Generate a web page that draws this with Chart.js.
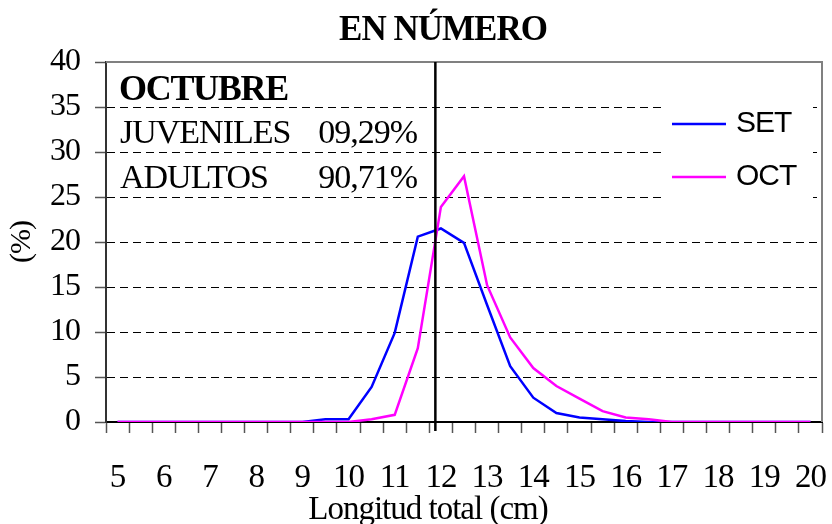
<!DOCTYPE html>
<html>
<head>
<meta charset="utf-8">
<script src="https://cdn.jsdelivr.net/npm/chart.js@4"></script>
<style>
  html, body { margin: 0; padding: 0; background: #fff; }
  canvas { display: block; }
</style>
</head>
<body>
<canvas id="grafico" width="832" height="524"></canvas>
<script>
// Longitud total (cm), clases de 0,5 cm
const tallas = [5, 5.5, 6, 6.5, 7, 7.5, 8, 8.5, 9, 9.5, 10, 10.5, 11, 11.5, 12, 12.5,
                13, 13.5, 14, 14.5, 15, 15.5, 16, 16.5, 17, 17.5, 18, 18.5, 19, 19.5, 20];

// Frecuencia en número (%)
const serieSet = [0, 0, 0, 0, 0, 0, 0, 0, 0, 0.3, 0.3, 3.9, 9.9, 20.6, 21.5, 19.9,
                  13.0, 6.2, 2.7, 1.0, 0.5, 0.3, 0.1, 0, 0, 0, 0, 0, 0, 0, 0];
const serieOct = [0, 0, 0, 0, 0, 0, 0, 0, 0, 0, 0, 0.3, 0.8, 8.2, 23.9, 27.3,
                  15.2, 9.4, 6.0, 4.0, 2.6, 1.2, 0.5, 0.3, 0, 0, 0, 0, 0, 0, 0];

const nombresSeries = ['SET', 'OCT'];
const coloresSeries = ['#0000ff', '#ff00ff'];

const ticksY = [0, 5, 10, 15, 20, 25, 30, 35, 40];

const titulo = 'EN NÚMERO';
const tituloX = 'Longitud total (cm)';
const tituloY = '(%)';

const mesResumen = 'OCTUBRE';
const gruposResumen = ['JUVENILES', 'ADULTOS'];
const porcentajesResumen = ['09,29%', '90,71%'];

// Talla mínima marcada con la línea vertical
const tallaReferencia = 11.88;

const etiquetasX = tallas.map(t => (Number.isInteger(t) ? String(t) : ''));

const SERIF = "'Liberation Serif', 'Times New Roman', serif";
const SANS = "'Liberation Sans', Arial, sans-serif";

const decoracion = {
  id: 'decoracion',
  beforeDraw(chart) {
    const ctx = chart.ctx;
    ctx.save();
    ctx.fillStyle = '#ffffff';
    ctx.fillRect(0, 0, chart.width, chart.height);
    ctx.restore();
    ctx.letterSpacing = '-1px';
  },
  afterDraw(chart) {
    const { ctx, chartArea: a, scales: { x } } = chart;
    ctx.save();
    ctx.letterSpacing = '-1px';

    // marco superior y derecho del área de trazado
    ctx.strokeStyle = '#808080';
    ctx.lineWidth = 2;
    ctx.beginPath();
    ctx.moveTo(a.left, a.top);
    ctx.lineTo(a.right, a.top);
    ctx.lineTo(a.right, a.bottom);
    ctx.stroke();

    // línea vertical de referencia
    const xr = x.getPixelForValue((tallaReferencia - tallas[0]) / 0.5);
    ctx.strokeStyle = '#000000';
    ctx.lineWidth = 2.5;
    ctx.beginPath();
    ctx.moveTo(xr, a.top);
    ctx.lineTo(xr, a.bottom + 9);
    ctx.stroke();

    // título
    ctx.fillStyle = '#000000';
    ctx.textAlign = 'center';
    ctx.textBaseline = 'alphabetic';
    ctx.font = 'bold 35px ' + SERIF;
    ctx.fillText(titulo, 443, 40);

    // título del eje X
    ctx.font = '33px ' + SERIF;
    ctx.fillText(tituloX, 428, 519);

    // cuadro de resumen
    ctx.textAlign = 'left';
    ctx.font = 'bold 36px ' + SERIF;
    ctx.letterSpacing = '-1.3px';
    ctx.fillText(mesResumen, a.left + 13, 100);
    ctx.letterSpacing = '-1px';
    ctx.font = '34px ' + SERIF;
    const filas = [143, 188];
    gruposResumen.forEach((g, i) => {
      ctx.textAlign = 'left';
      ctx.fillText(g, a.left + 14, filas[i]);
      ctx.textAlign = 'right';
      ctx.fillText(porcentajesResumen[i], 417, filas[i]);
    });

    // leyenda
    ctx.fillStyle = '#ffffff';
    ctx.fillRect(662, 95, 151, 107);
    ctx.font = '30px ' + SANS;
    ctx.textAlign = 'left';
    chart.data.datasets.forEach((ds, i) => {
      const yl = 124 + i * 53;
      ctx.strokeStyle = ds.borderColor;
      ctx.lineWidth = 2.5;
      ctx.beginPath();
      ctx.moveTo(672, yl);
      ctx.lineTo(726, yl);
      ctx.stroke();
      ctx.fillStyle = '#000000';
      ctx.fillText(ds.label, 736, yl + 8);
    });
    ctx.restore();
  }
};

new Chart(document.getElementById('grafico'), {
  type: 'line',
  data: {
    labels: etiquetasX,
    datasets: [
      { label: nombresSeries[0], data: serieSet, borderColor: coloresSeries[0], order: 1 },
      { label: nombresSeries[1], data: serieOct, borderColor: coloresSeries[1], order: 0 }
    ]
  },
  options: {
    responsive: false,
    animation: false,
    events: [],
    layout: { padding: { top: 62, right: 10, left: 0, bottom: 0 } },
    elements: {
      line: { borderWidth: 2.5, tension: 0, fill: false },
      point: { radius: 0 }
    },
    plugins: {
      legend: { display: false },
      tooltip: { enabled: false },
      title: { display: false }
    },
    scales: {
      x: {
        type: 'category',
        offset: true,
        afterFit(s) { s.height = 102; s.paddingLeft = 0; s.paddingRight = 0; },
        grid: {
          offset: true,
          drawOnChartArea: false,
          drawTicks: true,
          tickLength: 11,
          tickColor: '#555555',
          tickWidth: 1.5
        },
        border: { display: true, color: '#000000', width: 2 },
        ticks: {
          autoSkip: false,
          maxRotation: 0,
          minRotation: 0,
          padding: 26,
          color: '#000000',
          font: { family: SERIF, size: 33 }
        },
        title: { display: false }
      },
      y: {
        min: 0,
        max: 40,
        afterFit(s) { s.width = 106; s.paddingTop = 0; s.paddingBottom = 0; },
        afterBuildTicks(s) { s.ticks = ticksY.map(v => ({ value: v })); },
        grid: {
          drawTicks: true,
          tickLength: 11,
          tickColor: '#555555',
          tickWidth: 1.5,
          tickBorderDash: [],
          lineWidth: 1,
          color: ctx => (ctx.tick && (ctx.tick.value === 0 || ctx.tick.value === 40)) ? 'rgba(0,0,0,0)' : '#000000'
        },
        border: { display: true, color: '#333333', width: 2, dash: [8, 5] },
        ticks: {
          padding: 15,
          color: '#000000',
          font: { family: SERIF, size: 32 }
        },
        title: {
          display: true,
          text: tituloY,
          color: '#000000',
          padding: { top: 4, bottom: 0 },
          font: { family: SERIF, size: 30, lineHeight: '36px' }
        }
      }
    }
  },
  plugins: [decoracion]
});
</script>
</body>
</html>
